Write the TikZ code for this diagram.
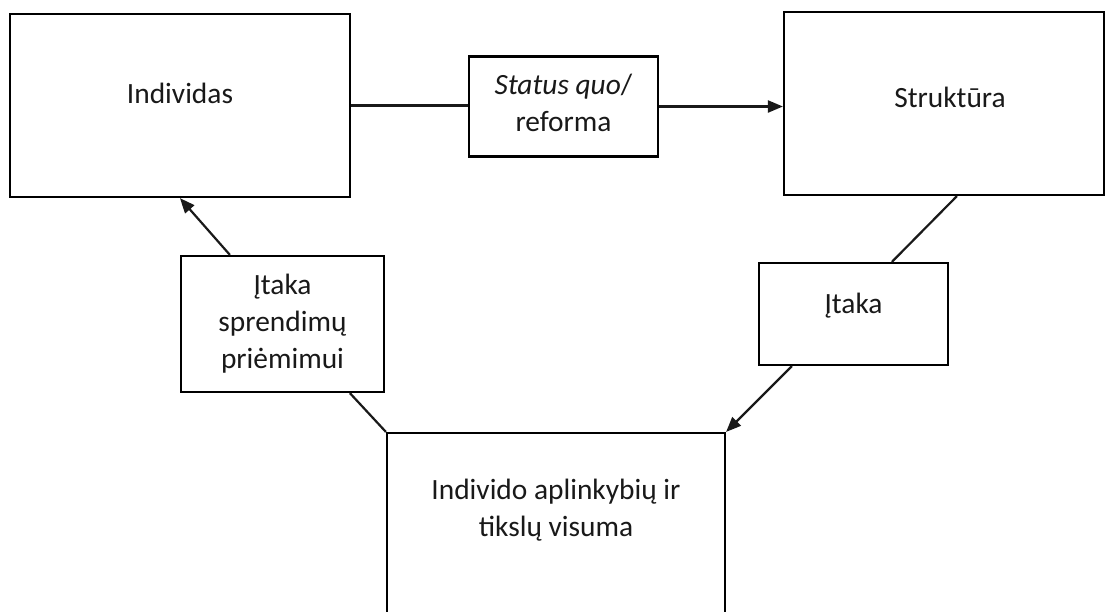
\documentclass[tikz,border=0pt]{standalone}
\usepackage{fontspec}
\setmainfont{Carlito}
\usetikzlibrary{arrows.meta}
\begin{document}
\begin{tikzpicture}[x=1pt,y=-1pt,
  box/.style={draw=black, line width=2.2pt, fill=white, inner sep=0pt},
  txt/.style={font=\fontsize{29.4}{37}\selectfont, text=black!90, align=center, inner sep=0pt},
  conn/.style={draw=black!90, line width=2.2pt},
  arr/.style={conn, -{Triangle[length=15pt,width=12pt]}}]
\clip (0,0) rectangle (1114,611);
\fill[white] (0,0) rectangle (1114,611);
% boxes
\node[box, minimum width=340pt, minimum height=183pt] (ind) at (180,105.5) {};
\node[box, minimum width=189pt, minimum height=100pt] (sq) at (563.5,106.5) {};
\node[box, minimum width=320pt, minimum height=183pt] (str) at (944,103.5) {};
\node[box, minimum width=189pt, minimum height=102pt] (it2) at (853.5,314) {};
\node[box, minimum width=203pt, minimum height=136pt] (it1) at (282.5,324) {};
\node[box, minimum width=338pt, minimum height=230pt] (env) at (556,548) {};
% texts
\node[txt] (tind) at (180,93) {Individas};
\node[txt] (tsq) at (563.5,103) {\textit{Status quo}/\\reforma};
\node[txt] (tstr) at (950,97) {Struktūra};
\node[txt] (tit2) at (853.5,306) {Įtaka};
\node[txt] (tit1) at (282.5,324) {Įtaka\\sprendimų\\priėmimui};
\node[txt] (tenv) at (556,510) {Individo aplinkybių ir\\tikslų visuma};
% connectors
\draw[conn] (ind.east) -- (ind.east -| sq.west);
\draw[arr] (sq.east) -- (sq.east -| str.west);
\draw[conn] ([xshift=174pt]str.south west) -- ([xshift=134pt]it2.north west);
\draw[arr] ([xshift=34pt]it2.south west) -- (env.north east);
\draw[conn] (env.north west) -- ([xshift=170pt]it1.south west);
\draw[arr] ([xshift=50pt]it1.north west) -- ([xshift=171pt]ind.south west);
\end{tikzpicture}
\end{document}
